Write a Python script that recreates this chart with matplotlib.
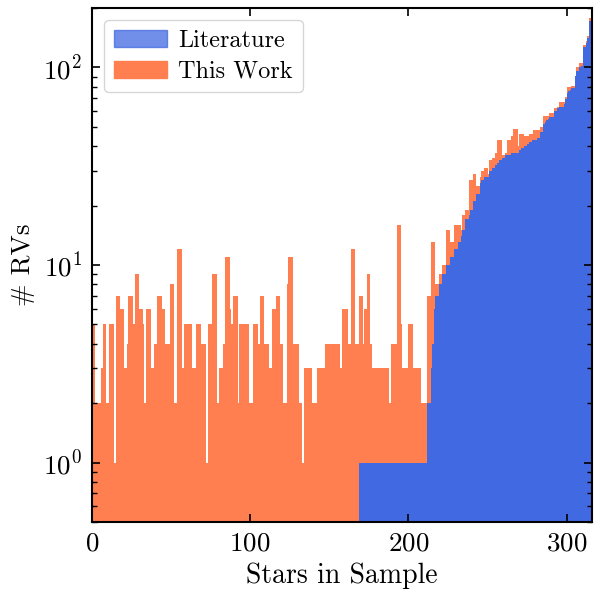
import numpy as np
import matplotlib
matplotlib.use("Agg")
import matplotlib.pyplot as plt
from matplotlib.patches import Patch

# total RVs per star (literature + this work), stars sorted by literature count
n_total = [
    5, 5, 2, 2, 2, 2, 3, 5, 5, 2, 2, 5, 5, 5, 1, 7, 7, 7, 6, 6,
    3, 3, 4, 7, 7, 7, 5, 9, 9, 9, 6, 6, 5, 2, 6, 6, 6, 3, 3, 4,
    4, 7, 7, 7, 6, 6, 4, 4, 4, 8, 8, 8, 2, 2, 12, 12, 12, 3, 5, 5,
    5, 5, 5, 3, 3, 3, 5, 5, 5, 4, 4, 4, 1, 5, 5, 5, 9, 9, 9, 2,
    3, 3, 3, 4, 11, 11, 11, 6, 5, 7, 7, 7, 2, 5, 5, 5, 5, 5, 5, 2,
    2, 2, 5, 5, 5, 4, 7, 7, 7, 4, 4, 4, 3, 3, 6, 6, 7, 7, 7, 4,
    4, 2, 2, 8, 11, 11, 11, 4, 4, 4, 4, 2, 2, 1, 3, 3, 3, 3, 3, 2,
    2, 2, 3, 3, 3, 3, 3, 4, 4, 4, 4, 4, 4, 4, 4, 4, 4, 3, 6, 6,
    6, 6, 4, 4, 12, 12, 4, 4, 4, 7, 7, 4, 6, 6, 9, 9, 4, 3, 3, 3,
    3, 3, 3, 3, 3, 3, 3, 3, 2, 4, 4, 4, 4, 16, 16, 5, 3, 3, 3, 3,
    5, 5, 5, 3, 3, 3, 3, 3, 2, 2, 2, 2, 7, 7, 13, 13, 13, 8, 8, 9,
    9, 10, 10, 10, 15, 15, 13, 13, 13, 16, 16, 16, 16, 15, 18, 18, 19, 19, 27, 27,
    27, 29, 29, 25, 25, 28, 30, 30, 31, 31, 29, 34, 34, 35, 35, 37, 43, 43, 43, 36,
    36, 37, 43, 43, 43, 45, 49, 49, 49, 40, 46, 46, 46, 45, 45, 45, 46, 46, 46, 48,
    48, 48, 48, 50, 50, 57, 57, 57, 57, 59, 59, 59, 62, 62, 63, 67, 67, 67, 67, 71,
    80, 80, 80, 81, 81, 91, 100, 100, 105, 105, 130, 130, 136, 144, 179, 179,
]

# RVs from the literature per star
n_lit = [
    0, 0, 0, 0, 0, 0, 0, 0, 0, 0, 0, 0, 0, 0, 0, 0, 0, 0, 0, 0,
    0, 0, 0, 0, 0, 0, 0, 0, 0, 0, 0, 0, 0, 0, 0, 0, 0, 0, 0, 0,
    0, 0, 0, 0, 0, 0, 0, 0, 0, 0, 0, 0, 0, 0, 0, 0, 0, 0, 0, 0,
    0, 0, 0, 0, 0, 0, 0, 0, 0, 0, 0, 0, 0, 0, 0, 0, 0, 0, 0, 0,
    0, 0, 0, 0, 0, 0, 0, 0, 0, 0, 0, 0, 0, 0, 0, 0, 0, 0, 0, 0,
    0, 0, 0, 0, 0, 0, 0, 0, 0, 0, 0, 0, 0, 0, 0, 0, 0, 0, 0, 0,
    0, 0, 0, 0, 0, 0, 0, 0, 0, 0, 0, 0, 0, 0, 0, 0, 0, 0, 0, 0,
    0, 0, 0, 0, 0, 0, 0, 0, 0, 0, 0, 0, 0, 0, 0, 0, 0, 0, 0, 0,
    0, 0, 0, 0, 0, 0, 0, 0, 0, 1, 1, 1, 1, 1, 1, 1, 1, 1, 1, 1,
    1, 1, 1, 1, 1, 1, 1, 1, 1, 1, 1, 1, 1, 1, 1, 1, 1, 1, 1, 1,
    1, 1, 1, 1, 1, 1, 1, 1, 1, 1, 1, 1, 2, 2, 3, 4, 6, 7, 7, 8,
    8, 9, 9, 9, 10, 10, 11, 11, 11, 12, 12, 13, 13, 14, 15, 15, 17, 17, 18, 19,
    19, 21, 21, 23, 23, 26, 27, 27, 28, 28, 28, 30, 30, 31, 31, 32, 33, 34, 34, 35,
    35, 36, 36, 36, 36, 37, 37, 37, 37, 37, 38, 39, 39, 40, 40, 41, 42, 42, 43, 43,
    43, 44, 44, 47, 47, 52, 53, 54, 55, 56, 56, 56, 60, 60, 62, 63, 63, 63, 65, 69,
    74, 76, 77, 79, 79, 91, 96, 96, 100, 102, 127, 127, 133, 141, 171, 171,
]

plt.rcParams.update({
    "font.family": "serif",
    "font.serif": ["cmr10"],
    "mathtext.fontset": "cm",
    "axes.formatter.use_mathtext": True,
    "axes.linewidth": 1.5,
    "xtick.direction": "in",
    "ytick.direction": "in",
    "xtick.top": True,
    "ytick.right": True,
    "xtick.major.size": 6,
    "ytick.major.size": 6,
    "xtick.major.width": 1.2,
    "ytick.major.width": 1.2,
    "ytick.minor.size": 3.5,
    "ytick.minor.width": 1.0,
    "xtick.major.pad": 7,
    "ytick.major.pad": 7,
})

fig = plt.figure(figsize=(6, 6), dpi=100)
ax = fig.add_axes([92 / 600, 78 / 600, 500 / 600, 514 / 600])

stars = np.arange(len(n_total))
ax.bar(stars, n_total, width=1, align="edge", color="coral", linewidth=0)
ax.bar(stars, n_lit, width=1, align="edge", color="royalblue", linewidth=0)

ax.set_yscale("log")
ax.set_xlim(0, len(n_total))
ax.set_ylim(0.5, 200)

ax.set_xlabel("Stars in Sample", fontsize=20, labelpad=5)
ax.set_ylabel(r"# RVs", fontsize=19.5, labelpad=6)
ax.tick_params(labelsize=19.5)

handles = [Patch(color="royalblue", alpha=0.75, label="Literature"),
           Patch(color="coral", label="This Work")]
ax.legend(handles=handles, loc="upper left", fontsize=17.5, handlelength=2.2,
          handletextpad=0.45, labelspacing=0.35)

fig.savefig("out.png", dpi=100)
